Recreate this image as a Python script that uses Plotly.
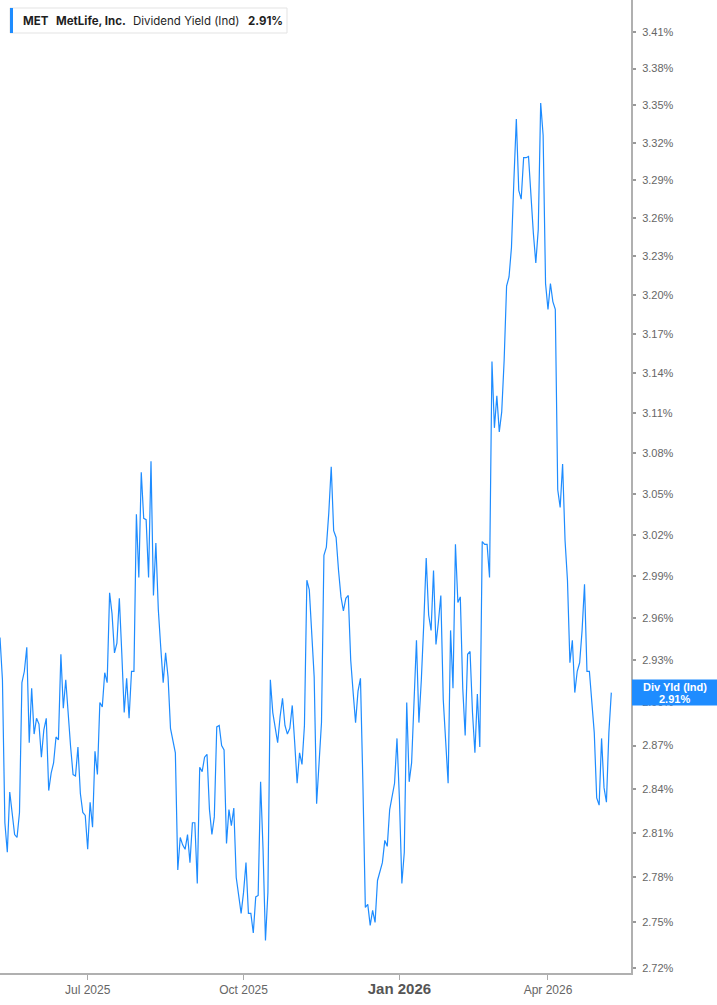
import math
import plotly.graph_objects as go

dates = """
2025-05-08 2025-05-09 2025-05-12 2025-05-13 2025-05-14 2025-05-15 2025-05-16 2025-05-19 2025-05-20 2025-05-21
2025-05-22 2025-05-23 2025-05-27 2025-05-28 2025-05-29 2025-05-30
2025-06-02 2025-06-03 2025-06-04 2025-06-05 2025-06-06 2025-06-09 2025-06-10 2025-06-11 2025-06-12 2025-06-13
2025-06-16 2025-06-17 2025-06-18 2025-06-20 2025-06-23 2025-06-24 2025-06-25 2025-06-26 2025-06-27 2025-06-30
2025-07-01 2025-07-02 2025-07-03 2025-07-07 2025-07-08 2025-07-09 2025-07-10 2025-07-11 2025-07-14 2025-07-15
2025-07-16 2025-07-17 2025-07-18 2025-07-21 2025-07-22 2025-07-23 2025-07-24 2025-07-25 2025-07-28 2025-07-29
2025-07-30 2025-07-31
2025-08-01 2025-08-04 2025-08-05 2025-08-06 2025-08-07 2025-08-08 2025-08-11 2025-08-12 2025-08-13 2025-08-14
2025-08-15 2025-08-18 2025-08-19 2025-08-20 2025-08-21 2025-08-22 2025-08-25 2025-08-26 2025-08-27 2025-08-28
2025-08-29
2025-09-02 2025-09-03 2025-09-04 2025-09-05 2025-09-08 2025-09-09 2025-09-10 2025-09-11 2025-09-12 2025-09-15
2025-09-16 2025-09-17 2025-09-18 2025-09-19 2025-09-22 2025-09-23 2025-09-24 2025-09-25 2025-09-26 2025-09-29
2025-09-30
2025-10-01 2025-10-02 2025-10-03 2025-10-06 2025-10-07 2025-10-08 2025-10-09 2025-10-10 2025-10-13 2025-10-14
2025-10-15 2025-10-16 2025-10-17 2025-10-20 2025-10-21 2025-10-22 2025-10-23 2025-10-24 2025-10-27 2025-10-28
2025-10-29 2025-10-30 2025-10-31
2025-11-03 2025-11-04 2025-11-05 2025-11-06 2025-11-07 2025-11-10 2025-11-11 2025-11-12 2025-11-13 2025-11-14
2025-11-17 2025-11-18 2025-11-19 2025-11-20 2025-11-21 2025-11-24 2025-11-25 2025-11-26 2025-11-28
2025-12-01 2025-12-02 2025-12-03 2025-12-04 2025-12-05 2025-12-08 2025-12-09 2025-12-10 2025-12-11 2025-12-12
2025-12-15 2025-12-16 2025-12-17 2025-12-18 2025-12-19 2025-12-22 2025-12-23 2025-12-24 2025-12-26 2025-12-29
2025-12-30 2025-12-31
2026-01-02 2026-01-05 2026-01-06 2026-01-07 2026-01-08 2026-01-09 2026-01-12 2026-01-13 2026-01-14 2026-01-15
2026-01-16 2026-01-20 2026-01-21 2026-01-22 2026-01-23 2026-01-26 2026-01-27 2026-01-28 2026-01-29 2026-01-30
2026-02-02 2026-02-03 2026-02-04 2026-02-05 2026-02-06 2026-02-09 2026-02-10 2026-02-11 2026-02-12 2026-02-13
2026-02-17 2026-02-18 2026-02-19 2026-02-20 2026-02-23 2026-02-24 2026-02-25 2026-02-26 2026-02-27
2026-03-02 2026-03-03 2026-03-04 2026-03-05 2026-03-06 2026-03-09 2026-03-10 2026-03-11 2026-03-12 2026-03-13
2026-03-16 2026-03-17 2026-03-18 2026-03-19 2026-03-20 2026-03-23 2026-03-24 2026-03-25 2026-03-26 2026-03-27
2026-03-30 2026-03-31
2026-04-01 2026-04-02 2026-04-06 2026-04-07 2026-04-08 2026-04-09 2026-04-10 2026-04-13 2026-04-14 2026-04-15
2026-04-16 2026-04-17 2026-04-20 2026-04-21 2026-04-22 2026-04-23 2026-04-24 2026-04-27 2026-04-28 2026-04-29
2026-04-30
2026-05-01 2026-05-04 2026-05-05 2026-05-06 2026-05-07 2026-05-08
""".split()

div_yield = [
    # May 2025
    2.946, 2.916, 2.817, 2.797, 2.838, 2.824, 2.809, 2.807, 2.824, 2.914, 2.922, 2.939, 2.872, 2.910, 2.878, 2.889,
    # Jun
    2.885, 2.862, 2.881, 2.889, 2.839, 2.851, 2.858, 2.876, 2.874, 2.934, 2.896, 2.916, 2.890, 2.869, 2.850, 2.849,
    2.869, 2.837, 2.824, 2.822,
    # Jul
    2.799, 2.831, 2.814, 2.866, 2.850, 2.900, 2.897, 2.921, 2.914, 2.978, 2.963, 2.935, 2.942, 2.974, 2.935, 2.893,
    2.917, 2.889, 2.922, 2.922, 3.035, 2.989,
    # Aug
    3.066, 3.032, 3.031, 2.989, 3.074, 2.976, 3.014, 2.966, 2.939, 2.914, 2.935, 2.918, 2.882, 2.872, 2.865, 2.785,
    2.807, 2.802, 2.799, 2.809, 2.790,
    # Sep
    2.817, 2.817, 2.776, 2.855, 2.852, 2.862, 2.864, 2.826, 2.809, 2.821, 2.883, 2.884, 2.870, 2.867, 2.803, 2.826,
    2.815, 2.827, 2.780, 2.767, 2.756,
    # Oct
    2.770, 2.790, 2.756, 2.756, 2.743, 2.767, 2.768, 2.845, 2.799, 2.738, 2.770, 2.916, 2.893, 2.881, 2.872, 2.890,
    2.903, 2.884, 2.878, 2.882, 2.898, 2.872, 2.844,
    # Nov
    2.865, 2.857, 2.884, 2.987, 2.980, 2.946, 2.918, 2.830, 2.860, 2.886, 3.005, 3.011, 3.036, 3.070, 3.023, 3.018,
    2.994, 2.975, 2.965,
    # Dec
    2.974, 2.976, 2.930, 2.907, 2.886, 2.908, 2.917, 2.844, 2.760, 2.762, 2.748, 2.758, 2.750, 2.778, 2.784, 2.790,
    2.805, 2.801, 2.826, 2.835, 2.844, 2.875,
    # Jan 2026
    2.833, 2.776, 2.797, 2.900, 2.845, 2.858, 2.897, 2.944, 2.886, 2.916, 2.956, 3.003, 2.962, 2.951, 2.994, 2.941,
    2.957, 2.976, 2.902, 2.872,
    # Feb
    2.844, 2.951, 2.910, 3.013, 2.971, 2.975, 2.910, 2.877, 2.934, 2.936, 2.893, 2.865, 2.906, 2.869, 3.015, 3.013,
    3.013, 2.989, 3.149,
    # Mar
    3.099, 3.123, 3.096, 3.111, 3.150, 3.207, 3.214, 3.237, 3.290, 3.339, 3.282, 3.275, 3.308, 3.308, 3.309, 3.276,
    3.248, 3.225, 3.251, 3.352, 3.326, 3.209,
    # Apr
    3.189, 3.209, 3.195, 3.189, 3.053, 3.040, 3.072, 3.016, 2.987, 2.928, 2.944, 2.907, 2.922, 2.928, 2.951, 2.984,
    2.922, 2.922, 2.902, 2.879, 2.834,
    # May
    2.829, 2.875, 2.841, 2.831, 2.879, 2.907,
]

holidays = ["2025-05-26", "2025-06-19", "2025-07-04", "2025-09-01", "2025-11-27",
            "2025-12-25", "2026-01-01", "2026-01-19", "2026-02-16", "2026-04-03"]

x_tick_vals = ["2025-07-01", "2025-10-01", "2026-01-02", "2026-04-01"]
x_tick_text = ["Jul 2025", "Oct 2025",
               "<span style='font-size:15px;font-weight:bold;fill:#555'>Jan 2026</span>", "Apr 2026"]

y_tick_vals = [2.72, 2.75, 2.78, 2.81, 2.84, 2.87, 2.90, 2.93, 2.96, 2.99, 3.02, 3.05, 3.08,
               3.11, 3.14, 3.17, 3.20, 3.23, 3.26, 3.29, 3.32, 3.35, 3.38, 3.41]
y_tick_text = [f"{v:.2f}%" for v in y_tick_vals]

ticker = "MET"
company = "MetLife, Inc."
metric = "Dividend Yield (Ind)"
last_label = "2.91%"

BLUE = "#1e8cff"
W, H = 717, 1005
PLOT_W, PLOT_H = 631, 973
y_lo, y_hi = 0.434024, 0.536111

fig = go.Figure()
fig.add_trace(go.Scatter(x=dates, y=div_yield, mode="lines",
                         line=dict(color=BLUE, width=1.2), hoverinfo="skip"))

fig.update_layout(
    width=W, height=H,
    margin=dict(l=0, r=W - PLOT_W, t=0, b=H - PLOT_H, pad=0),
    paper_bgcolor="white", plot_bgcolor="white",
    showlegend=False,
    xaxis=dict(
        type="date", range=["2025-05-08", "2026-05-20 02:00"],
        rangebreaks=[dict(bounds=["sat", "mon"]), dict(values=holidays)],
        tickmode="array", tickvals=x_tick_vals, ticktext=x_tick_text,
        ticks="outside", ticklen=5, tickwidth=1, tickcolor="#aaaaaa",
        showline=True, linecolor="#b0b0b0", linewidth=2,
        showgrid=False, zeroline=False,
        tickfont=dict(family="Liberation Sans Narrow, Arial Narrow, Liberation Sans, Arial", size=12, color="#666666"),
    ),
    yaxis=dict(
        type="log", side="right", range=[y_lo, y_hi],
        tickmode="array", tickvals=y_tick_vals, ticktext=y_tick_text,
        ticks="outside", ticklen=3, tickwidth=2, tickcolor="#999999",
        ticklabelstandoff=4,
        showline=True, linecolor="#b0b0b0", linewidth=2,
        showgrid=False, zeroline=False,
        tickfont=dict(family="Liberation Sans, Arial, sans-serif", size=11, color="#666666"),
    ),
)

def px_x(p):
    return p / PLOT_W

def px_y(p):
    return 1 - p / PLOT_H

# header box
fig.add_shape(type="rect", xref="paper", yref="paper",
              x0=px_x(10), x1=px_x(287), y0=px_y(33), y1=px_y(8),
              line=dict(color="#e3e3e3", width=1), fillcolor="white", layer="above")
fig.add_shape(type="rect", xref="paper", yref="paper",
              x0=px_x(10), x1=px_x(13), y0=px_y(33), y1=px_y(8),
              line=dict(width=0), fillcolor=BLUE, layer="above")

head_font = dict(family="Inter, Liberation Sans, Arial", size=11.5, color="#1f1f1f")
for txt, xp in [(f"<b>{ticker}</b>", 20.5), (f"<b>{company}</b>", 54), (metric, 130.5), (f"<b>{last_label}</b>", 245.5)]:
    fig.add_annotation(text=txt, xref="paper", yref="paper", x=px_x(xp), y=px_y(21),
                       xanchor="left", yanchor="middle", showarrow=False, font=head_font)

# last value label
frac = (math.log10(div_yield[-1]) - y_lo) / (y_hi - y_lo)
fig.add_shape(type="rect", xref="paper", yref="paper",
              x0=px_x(632), x1=px_x(717), y0=frac - 13 / PLOT_H, y1=frac + 13 / PLOT_H,
              line=dict(width=0), fillcolor=BLUE, layer="above")
lab_font = dict(family="Liberation Sans, Arial", size=11, color="white")
fig.add_annotation(text="<b>Div Yld (Ind)</b>", xref="paper", yref="paper",
                   x=px_x(674.5), y=frac + 6 / PLOT_H, xanchor="center", yanchor="middle",
                   showarrow=False, font=lab_font)
fig.add_annotation(text=f"<b>{last_label}</b>", xref="paper", yref="paper",
                   x=px_x(674.5), y=frac - 6 / PLOT_H, xanchor="center", yanchor="middle",
                   showarrow=False, font=lab_font)

fig.write_html("out.html", config={"displayModeBar": False},
               post_script="document.body.style.margin='0';document.body.style.overflow='hidden';")
